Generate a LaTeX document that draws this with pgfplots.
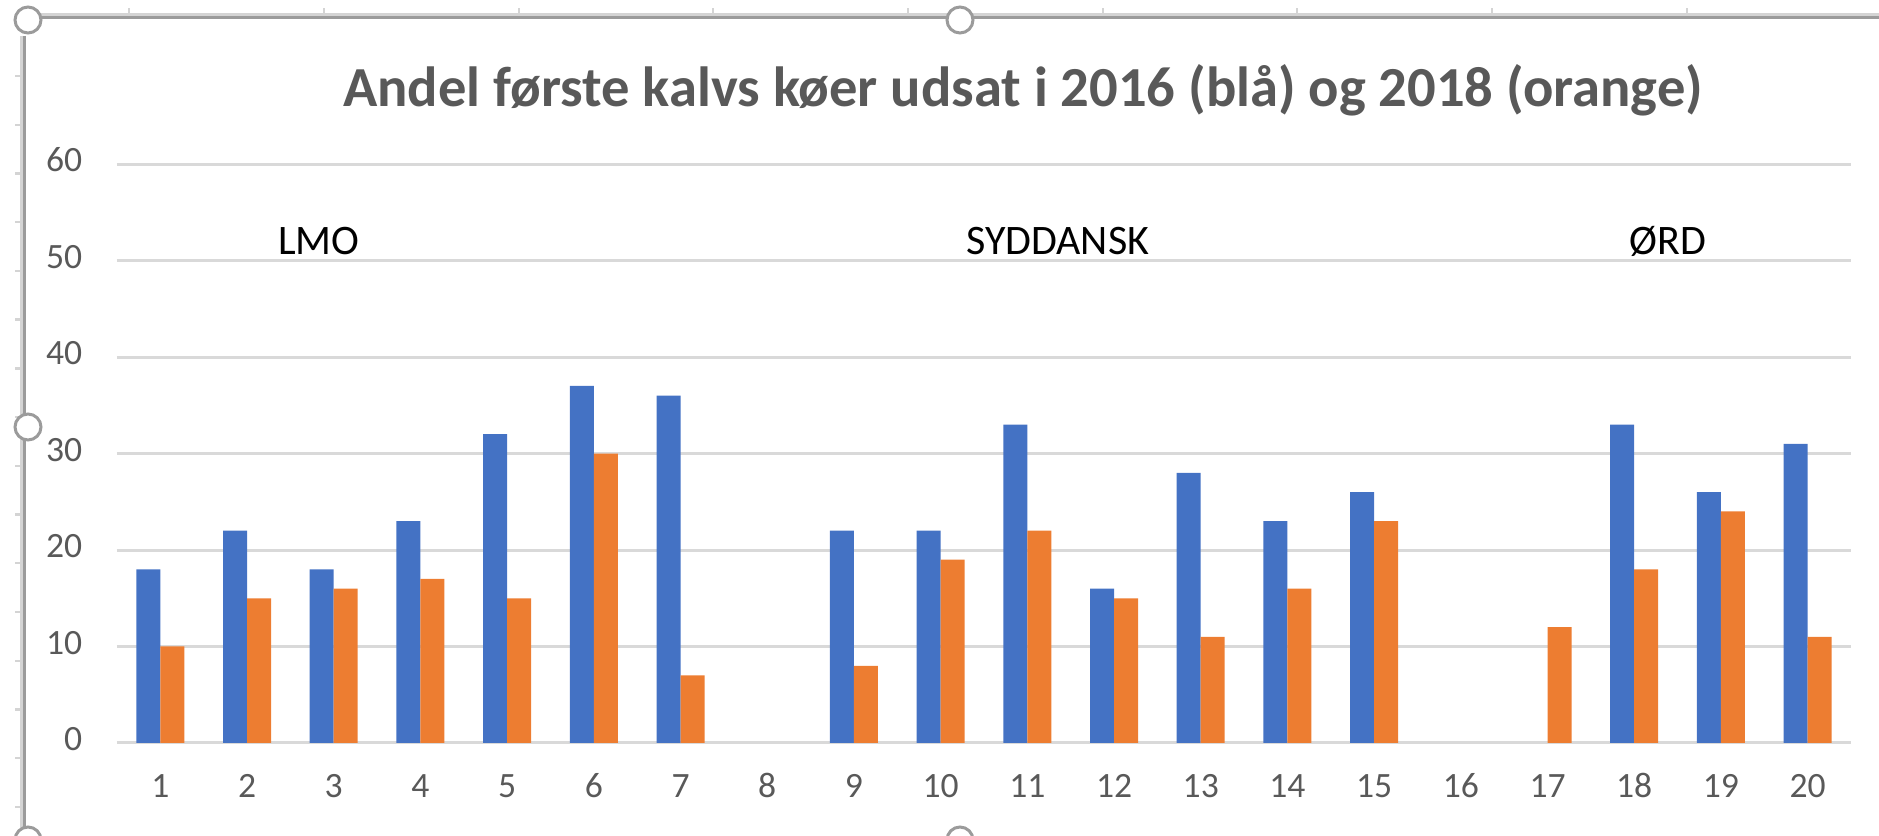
\documentclass[border=0pt]{standalone}
\usepackage{pgfplots}
\pgfplotsset{compat=1.18}
\usepackage{fontspec}
\setmainfont{Carlito}
\definecolor{xlblue}{HTML}{4472C4}
\definecolor{xlorange}{HTML}{ED7D31}
\definecolor{gridgray}{HTML}{D9D9D9}
\definecolor{txtgray}{HTML}{595959}
\definecolor{framegray}{HTML}{9B9B9B}
\definecolor{rulegray}{HTML}{D4D4D4}
\begin{document}
\begin{tikzpicture}
\path[use as bounding box] (0,0) rectangle (469.75pt,209pt);
% window frame (selection border of the chart)
\foreach \x in {129,324,519,713,908,1103,1297,1492,1687}
  \draw[rulegray, line width=0.6pt] ({\x*0.25pt},205.3pt) -- ({\x*0.25pt},207pt);
\foreach \k in {0,...,15}
  \draw[rulegray, line width=0.6pt] (3.75pt,{(836-76-48.73*\k)*0.25pt}) -- (5.6pt,{(836-76-48.73*\k)*0.25pt});
\draw[rulegray, line width=0.6pt] (10pt,205.4pt) -- (469.75pt,205.4pt);
\draw[framegray, line width=0.75pt] (10pt,204.7pt) -- (469.75pt,204.7pt);
\draw[rulegray, line width=0.6pt] (5.4pt,200pt) -- (5.4pt,0pt);
\draw[framegray, line width=0.75pt] (6.1pt,200pt) -- (6.1pt,0pt);
\foreach \p in {(7pt,204pt),(240pt,204pt),(7pt,102.25pt),(7pt,-1pt),(240pt,-1pt)}
  \draw[framegray, line width=0.75pt, fill=white] \p circle (3.25pt);
\begin{axis}[
  at={(29.25pt,23.25pt)}, anchor=south west,
  scale only axis, width=433.5pt, height=144.75pt,
  xmin=0.5, xmax=20.5, ymin=0, ymax=60,
  ybar=0pt, bar width=6pt,
  xtick={1,...,20}, ytick={0,10,...,60},
  axis line style={draw=none},
  major tick length=0pt,
  ymajorgrids, grid style={gridgray, line width=0.75pt},
  /pgf/number format/assume math mode=true,
  tick label style={font=\fontsize{8.9}{10}\selectfont, text=txtgray, inner sep=0pt},
  xticklabel style={anchor=base, yshift=-13.75pt},
  yticklabel style={anchor=base east, xshift=-8.5pt, yshift=-1.9pt},
  clip=false,
]
\addplot[fill=xlblue, draw=none] coordinates {
 (1,18) (2,22) (3,18) (4,23) (5,32) (6,37) (7,36) (9,22) (10,22)
 (11,33) (12,16) (13,28) (14,23) (15,26) (18,33) (19,26) (20,31)};
\addplot[fill=xlorange, draw=none] coordinates {
 (1,10) (2,15) (3,16) (4,17) (5,15) (6,30) (7,7) (9,8) (10,19)
 (11,22) (12,15) (13,11) (14,16) (15,23) (17,12) (18,18) (19,24) (20,11)};
\node[anchor=base, font=\fontsize{10.5}{12}\selectfont] at (axis cs:2.83,50.6) {LMO};
\node[anchor=base, font=\fontsize{10.5}{12}\selectfont] at (axis cs:11.35,50.6) {SYDDANSK};
\node[anchor=base, font=\fontsize{10.5}{12}\selectfont] at (axis cs:18.39,50.6) {ØRD};
\end{axis}
\node[anchor=base, font=\fontsize{14.15}{16}\selectfont\bfseries, text=txtgray] at (255.75pt,182.25pt) {Andel første kalvs køer udsat i 2016 (blå) og 2018 (orange)};
\end{tikzpicture}
\end{document}
